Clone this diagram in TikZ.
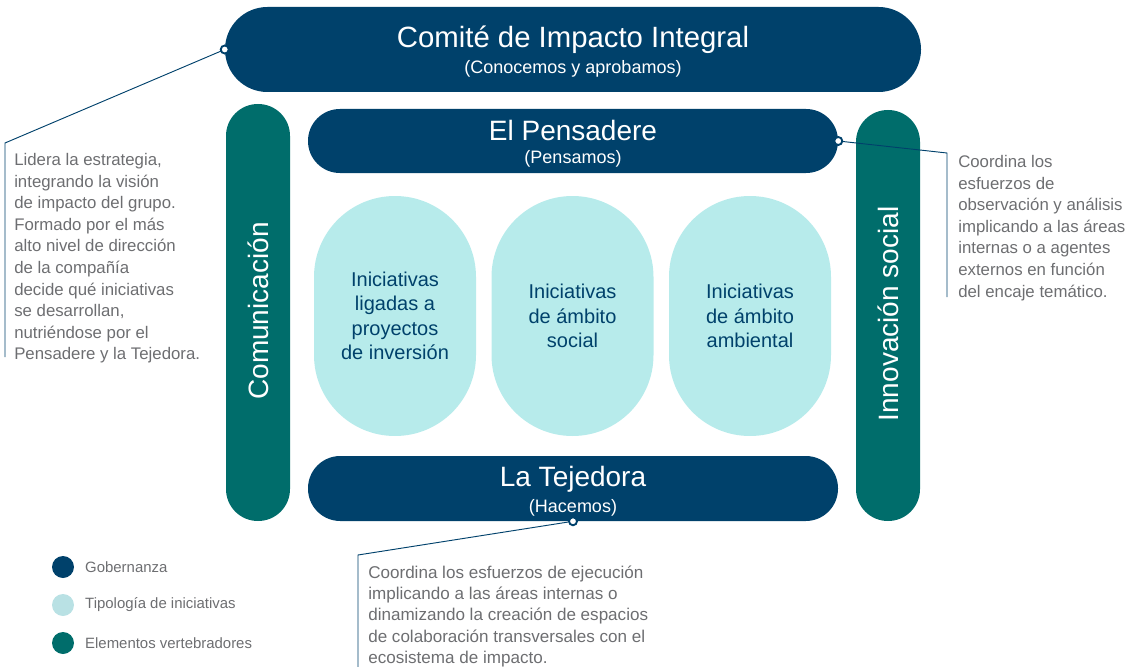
\documentclass[tikz,border=0pt]{standalone}
\usepackage{fontspec}
\setmainfont{Liberation Sans}
\usetikzlibrary{positioning}
\definecolor{navy}{HTML}{00416B}
\definecolor{vteal}{HTML}{006D6B}
\definecolor{pale}{HTML}{B7EBEB}
\definecolor{legpale}{HTML}{B9E1E4}
\definecolor{txtgray}{HTML}{6D6E71}
\newcommand{\fs}[2]{\fontsize{#1}{#2}\selectfont}
\tikzset{
  gov/.style={fill=navy, inner sep=0pt},
  spine/.style={fill=vteal, inner sep=0pt, minimum width=48pt, rounded corners=23.9pt},
  pill/.style={fill=pale, inner sep=0pt, minimum width=121.5pt, minimum height=180pt,
    rounded corners=60.7pt, text=navy, align=center, font=\fs{15}{18.4}},
  wtext/.style={text=white, inner sep=0pt, align=center},
  note/.style={text=txtgray, inner sep=0pt, align=left, anchor=north west, font=\fs{12.6}{16.2}},
  callout/.style={draw=navy, line width=0.7pt},
  dot/.style={circle, fill=white, draw=navy, line width=1.4pt, minimum size=6pt, inner sep=0pt},
  legdot/.style={circle, minimum size=16.5pt, inner sep=0pt},
  legtext/.style={text=txtgray, inner sep=0pt, font=\fs{11.2}{13}}
}
\begin{document}
\begin{tikzpicture}[x=0.75pt, y=-0.75pt]
  \useasboundingbox (0,0) rectangle (1146,667);
  % gobernanza
  \node[gov, minimum width=522pt, minimum height=63.75pt, rounded corners=31.8pt] (comite) at (573,49.5) {};
  \node[wtext, font=\fs{22}{26}] (comite-t) at (573,40) {Comité de Impacto Integral};
  \node[wtext, font=\fs{13.5}{16}] (comite-s) at (573,69) {(Conocemos y aprobamos)};
  \node[gov, minimum width=397.5pt, minimum height=48pt, rounded corners=23.9pt] (pensadere) at (573,141) {};
  \node[wtext, font=\fs{21}{24}] (pensadere-t) at (573,130) {El Pensadere};
  \node[wtext, font=\fs{13.5}{16}] (pensadere-s) at (573,159) {(Pensamos)};
  \node[gov, minimum width=397.5pt, minimum height=48.75pt, rounded corners=24.2pt] (tejedora) at (573,488.5) {};
  \node[wtext, font=\fs{21}{24}] (tejedora-t) at (573,479) {La Tejedora};
  \node[wtext, font=\fs{13.5}{16}] (tejedora-s) at (573,508) {(Hacemos)};
  % elementos vertebradores
  \node[spine, minimum height=312.75pt] (comunic) at (258,312.5) {};
  \node[wtext, rotate=90, font=\fs{21}{24}] (comunic-t) at (258,311) {Comunicación};
  \node[spine, minimum height=308.25pt] (innova) at (888,315.5) {};
  \node[wtext, rotate=90, font=\fs{21}{24}] (innova-t) at (888,314) {Innovación social};
  % tipologia
  \node[pill] (inv) at (395,316) {Iniciativas\\ligadas a\\proyectos\\de inversión};
  \node[pill] (soc) at (572.5,316) {Iniciativas\\de ámbito\\social};
  \node[pill] (amb) at (750,316) {Iniciativas\\de ámbito\\ambiental};
  % callouts
  \coordinate (c1a) at (5,143);
  \coordinate (c1b) at (5,357);
  \draw[callout] (comite.west) -- (c1a) -- (c1b);
  \node[dot] (d1) at (comite.west) {};
  \node[note] (n1) at (14,153) {Lidera la estrategia,\\integrando la visión\\de impacto del grupo.\\Formado por el más\\alto nivel de dirección\\de la compañía\\decide qué iniciativas\\se desarrollan,\\nutriéndose por el\\Pensadere y la Tejedora.};
  \coordinate (c2a) at (947,153);
  \coordinate (c2b) at (947,297);
  \draw[callout] (pensadere.east) -- (c2a) -- (c2b);
  \node[dot] (d2) at (pensadere.east) {};
  \node[note] (n2) at (958,155) {Coordina los\\esfuerzos de\\observación y análisis\\implicando a las áreas\\internas o a agentes\\externos en función\\del encaje temático.};
  \coordinate (c3a) at (358,555);
  \coordinate (c3b) at (358,667);
  \draw[callout] (tejedora.south) -- (c3a) -- (c3b);
  \node[dot] (d3) at (tejedora.south) {};
  \node[note, font=\fs{12.8}{15.8}] (n3) at (368,566) {Coordina los esfuerzos de ejecución\\implicando a las áreas internas o\\dinamizando la creación de espacios\\de colaboración transversales con el\\ecosistema de impacto.};
  % leyenda
  \node[legdot, fill=navy] (l1) at (63,567) {};
  \node[legdot, fill=legpale] (l2) at (63,605) {};
  \node[legdot, fill=vteal] (l3) at (63,643) {};
  \node[legtext, right=8pt of l1] (l1-t) {Gobernanza};
  \node[legtext, right=8pt of l2] (l2-t) {Tipología de iniciativas};
  \node[legtext, right=8pt of l3] (l3-t) {Elementos vertebradores};
\end{tikzpicture}
\end{document}
